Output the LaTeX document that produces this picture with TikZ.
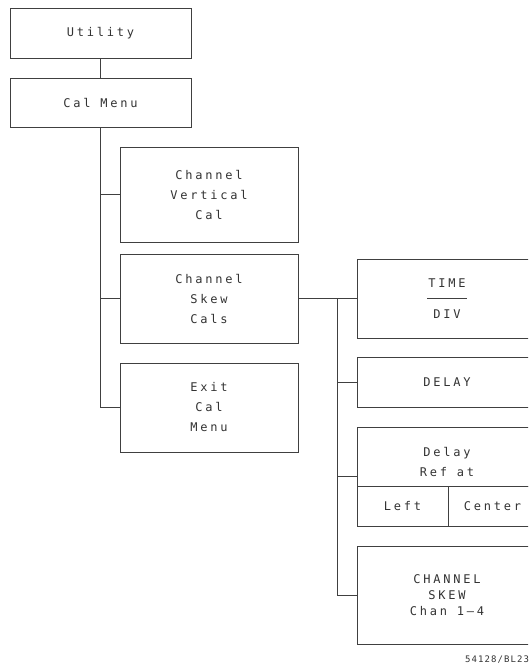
\documentclass[tikz,border=0pt]{standalone}
\usepackage{fontspec}
\usetikzlibrary{calc}
\newfontfamily\plotfont[LetterSpace=23]{DejaVu Sans Mono}
\newfontfamily\smallplot[LetterSpace=12]{DejaVu Sans Mono}
\begin{document}
\begin{tikzpicture}[x=1pt,y=-1pt,
  menubox/.style={draw=black!75, line width=0.6pt, rectangle, inner sep=0pt,
    font=\plotfont\fontsize{12}{20}\selectfont, text=black!80, align=center},
  conn/.style={draw=black!75, line width=0.6pt},
  lbl/.style={inner sep=0pt, font=\plotfont\fontsize{12}{20}\selectfont, text=black!80, align=center}]
\clip (0,0) rectangle (528,668);
\fill[white] (0,0) rectangle (528,668);
% left column
\node[menubox, minimum width=181pt, minimum height=50pt] (util) at (100.5,33) {Utility};
\node[menubox, minimum width=181pt, minimum height=49pt] (calmenu) at (100.5,102.5) {Cal Menu};
\node[menubox, minimum width=178pt, minimum height=95pt] (vert) at (209,194.5) {Channel\\Vertical\\Cal};
\node[menubox, minimum width=178pt, minimum height=89pt] (skew) at (209,298.5) {Channel\\Skew\\Cals};
\node[menubox, minimum width=178pt, minimum height=89pt] (exit) at (209,407.5) {Exit\\Cal\\Menu};
% right column
\node[menubox, minimum width=180pt, minimum height=79pt] (time) at (447,298.5) {TIME\\[11pt]DIV};
\node[menubox, minimum width=180pt, minimum height=50pt] (delay) at (447,382) {DELAY};
\node[menubox, minimum width=180pt, minimum height=59pt] (drefT) at (447,456.5) {};
\node[lbl] (dreftxt) at (447,462) {Delay\\Ref at};
\node[menubox, minimum width=91pt, minimum height=40pt] (drefL) at (402.5,506) {Left};
\node[menubox, minimum width=89pt, minimum height=40pt] (drefR) at (492.5,506) {Center};
\node[menubox, minimum width=180pt, minimum height=98pt, font=\plotfont\fontsize{12}{16}\selectfont] (chskew) at (447,595) {CHANNEL\\SKEW\\Chan 1–4};
% fraction bar in TIME/DIV
\draw[conn] ([xshift=-20pt]time.center) -- ([xshift=20pt]time.center);
% footer
\node[anchor=west, inner sep=0pt, font=\smallplot\fontsize{9}{10}\selectfont, text=black!80] (foot) at (465,660) {54128/BL23};
% connectors left
\draw[conn] (util) -- (calmenu);
\draw[conn] (calmenu.south) |- (exit.west);
\draw[conn] (calmenu.south |- vert.west) -- (vert.west);
\draw[conn] (calmenu.south |- skew.west) -- (skew.west);
% connectors right
\draw[conn] (skew.east) -- (time.west);
\coordinate (rs) at (337,298.5);
\coordinate (drefmid) at ($(drefT.north west)!0.5!(drefL.south west)$);
\draw[conn] (rs) |- (chskew.west);
\draw[conn] (rs |- delay.west) -- (delay.west);
\draw[conn] (rs |- drefmid) -- (drefmid);
\end{tikzpicture}
\end{document}
